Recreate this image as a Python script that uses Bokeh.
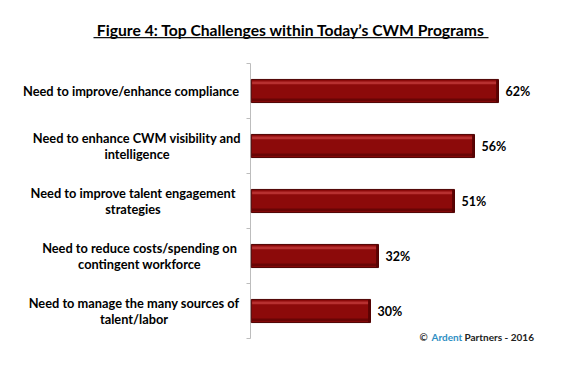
from bokeh.plotting import figure
from bokeh.models import Range1d, Label, BoxAnnotation
from bokeh.core.properties import value
from bokeh.embed import file_html
from bokeh.resources import INLINE

title_text = "Figure 4: Top Challenges within Today\u2019s CWM Programs"
categories = [
    "Need to improve/enhance compliance",
    "Need to enhance CWM visibility and\nintelligence",
    "Need to improve talent engagement\nstrategies",
    "Need to reduce costs/spending on\ncontingent workforce",
    "Need to manage the many sources of\ntalent/labor",
]
values = [62, 56, 51, 32, 30]
value_labels = ["62%", "56%", "51%", "32%", "30%"]
source_parts = ["\u00a9", "Ardent", "Partners - 2016"]

W, H = 568, 366
AX_X, AX_TOP, AX_BOTTOM = 250, 63, 338
PX_PER_X = 4.0
PX_PER_Y = (AX_BOTTOM - AX_TOP) / len(categories)


def dx(px):
    return (px - AX_X) / PX_PER_X


def dy(py):
    return (py - AX_TOP) / PX_PER_Y


FONT = "Lato"
p = figure(width=W, height=H, x_range=Range1d(dx(0), dx(W)), y_range=Range1d(dy(H), dy(0)),
           output_backend="svg", toolbar_location=None, min_border=0)
p.outline_line_color = None
p.grid.visible = False
p.axis.visible = False

n = len(categories)
ys = [i + 0.5 for i in range(n)]
ticks = list(range(n + 1))

# category axis
p.segment(x0=[0], y0=[0], x1=[0], y1=[n], line_color="#bdbdbd", line_width=1)
p.segment(x0=[dx(AX_X - 4)] * len(ticks), y0=ticks, x1=[0] * len(ticks), y1=ticks,
          line_color="#bdbdbd", line_width=1)

# bars with a bevel look
p.hbar(y=ys, left=0.2, right=values, height=0.42, fill_color="#8c0a0a", line_color="#4d0202", line_width=1)
p.hbar(y=[y - 0.15 for y in ys], left=0.4, right=[v - 0.4 for v in values], height=0.05,
       fill_color="#c23a3a", line_color=None, fill_alpha=0.8)
p.hbar(y=[y + 0.16 for y in ys], left=0.4, right=[v - 0.4 for v in values], height=0.05,
       fill_color="#640404", line_color=None, fill_alpha=0.9)
p.hbar(y=ys, left=[v - 0.6 for v in values], right=values, height=0.4,
       fill_color="#5a0303", line_color=None)

p.text(x=values, y=ys, text=value_labels, x_offset=7, text_baseline="middle", text_align="left",
       text_font=value(FONT), text_font_style="bold", text_font_size="12.5px", text_color="#000000")

label_centers = [130.5, 136.5, 132.5, 139, 133.5]
for y, cat, cx in zip(ys, categories, label_centers):
    p.add_layout(Label(x=dx(cx), y=y, text=cat, text_align="center", text_baseline="middle",
                       text_font=FONT, text_font_style="bold", text_font_size="12.8px",
                       text_color="#000000", text_line_height=1.0))

# title with underline
p.add_layout(Label(x=dx(290.5), y=dy(29), text=title_text, text_align="center", text_baseline="middle",
                   text_font=FONT, text_font_style="bold", text_font_size="15.7px", text_color="#000000"))
p.add_layout(BoxAnnotation(left=dx(93), right=dx(488), top=dy(36.5), bottom=dy(37.8),
                           fill_color="#111111", fill_alpha=1, line_color=None, level="overlay"))

# source note
src_x = [419, 431, 464]
src_colors = ["#333333", "#2f8fc4", "#222222"]
for sx, t, c in zip(src_x, source_parts, src_colors):
    p.add_layout(Label(x=dx(sx), y=dy(336), text=t, text_align="left", text_baseline="middle",
                       text_font=FONT, text_font_style="bold", text_font_size="10px", text_color=c))

open("out.html", "w").write(file_html(p, INLINE))
